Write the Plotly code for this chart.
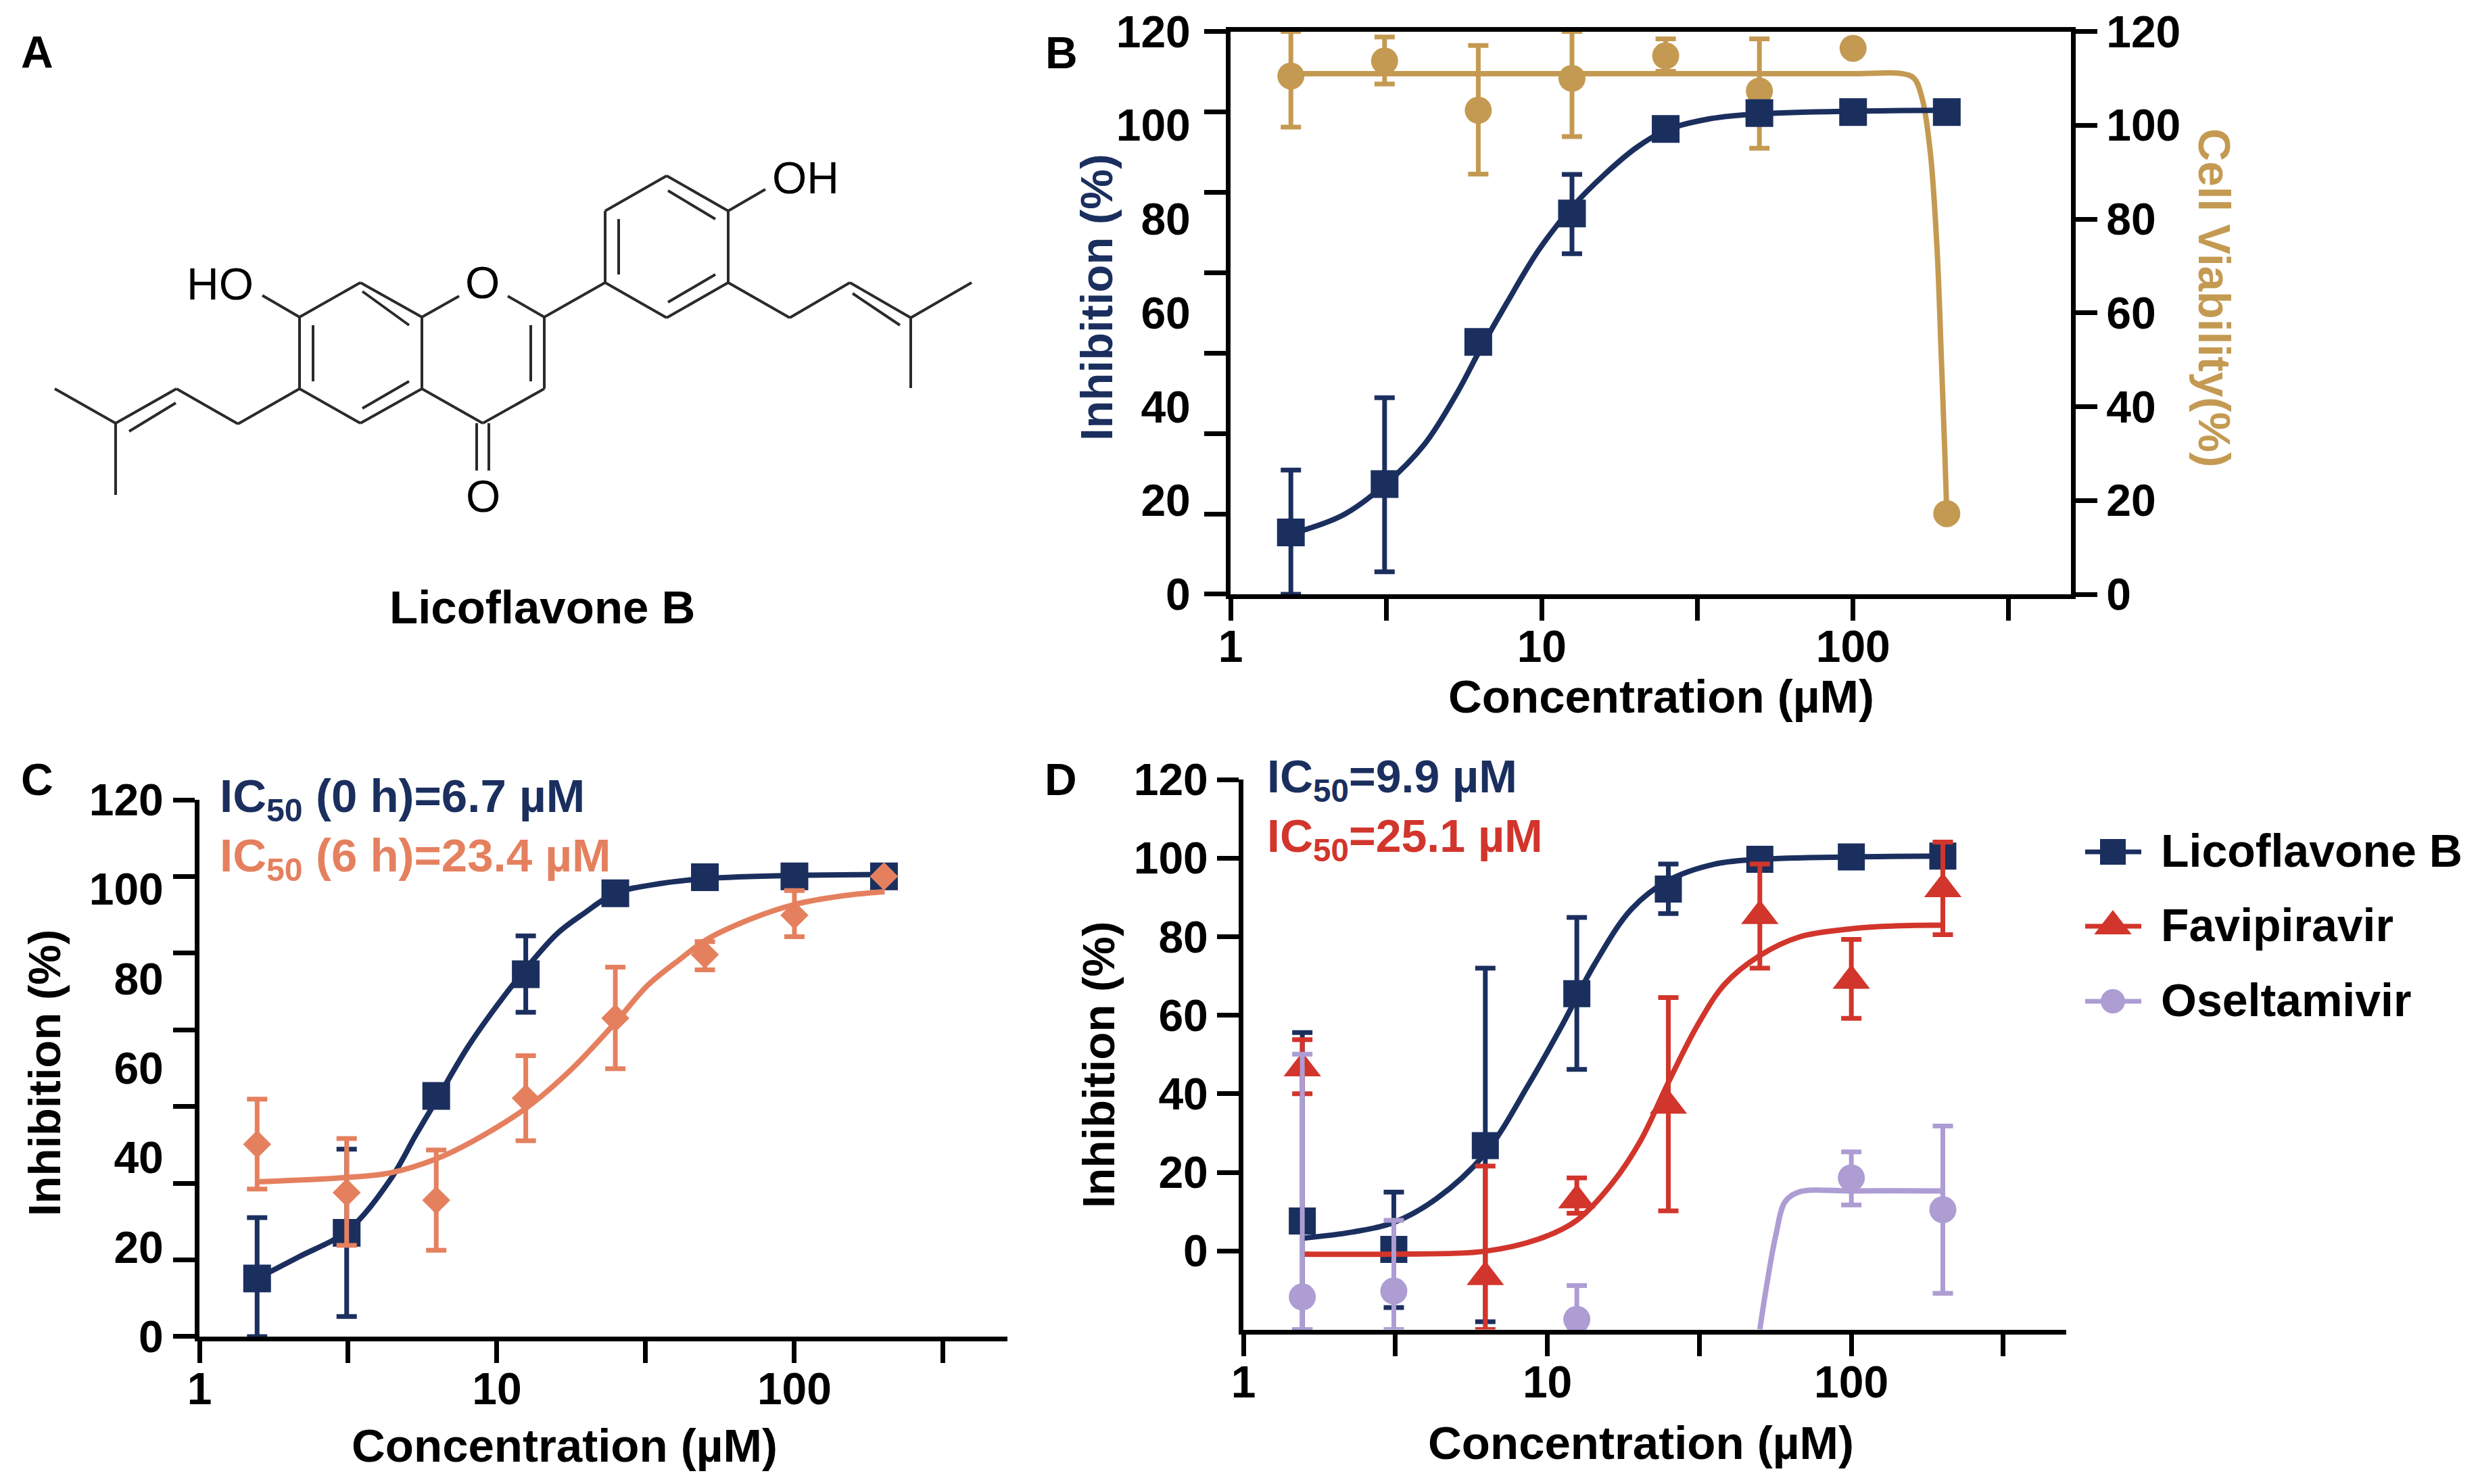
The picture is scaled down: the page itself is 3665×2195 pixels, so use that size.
import plotly.graph_objects as go

W, H = 3665, 2195

NAVY = "#1b2f5f"
TAN = "#c49a52"
SALMON = "#e5805f"
RED = "#d2352b"
LILAC = "#ad9dd3"
BLACK = "#000000"

# concentrations of the measured points
conc = [1.5625, 3.125, 6.25, 12.5, 25, 50, 100, 200]

# panel B
b_inhib = [13.2, 23.5, 53.8, 81.2, 99.2, 102.6, 102.8, 102.8]
b_inhib_hi = [26.5, 41.9, None, 89.5, None, None, None, None]
b_inhib_lo = [0, 4.8, None, 72.6, None, None, None, None]
b_inhib_fit_x = [1.57, 2.3, 3.15, 4.2, 5.35, 6.26, 7.7, 9.8, 12.5, 15.9, 20.2, 25, 34.8, 50, 100, 200]
b_inhib_fit_y = [12.9, 16.9, 23.5, 32, 43, 51.5, 62, 73.5, 82.5, 89.5, 95.3, 98.9, 101.4, 102.4, 103, 103.2]

b_viab = [110.5, 113.7, 103.2, 110, 114.8, 107.3, 116.4, 17.2]
b_viab_hi = [120, 118.8, 117, 120, 118.4, 118.4, None, None]
b_viab_lo = [99.6, 108.8, 89.6, 97.6, 111.5, 95.1, None, None]
b_viab_fit_x = [1.5625, 10, 100, 143.6, 157, 167, 177, 186, 192, 197, 200]
b_viab_fit_y = [111, 111, 111, 111, 110, 105.5, 94.3, 74, 50.8, 30.6, 17.2]

# panel C
c_0h = [13, 23.2, 53.8, 81, 99.1, 102.7, 102.9, 102.9]
c_0h_hi = [26.6, 41.9, None, 89.6, None, None, None, None]
c_0h_lo = [0, 4.5, None, 72.5, None, None, None, None]
c_0h_fit_x = [1.5625, 2.17, 3.15, 4.37, 5.33, 6.28, 7.94, 10, 12.6, 16, 19.5, 25, 35.6, 50.5, 100, 201]
c_0h_fit_y = [13, 17.9, 23.7, 35, 45, 53, 64.5, 74, 82.5, 90.2, 94.5, 99.1, 101.3, 102.4, 103.1, 103.3]

c_6h = [43, 32.2, 30.5, 53.3, 71.2, 85.4, 94.2, 102.9]
c_6h_hi = [53.1, 44.3, 41.7, 62.8, 82.6, 88.3, 99.7, None]
c_6h_lo = [33, 20.4, 19.3, 43.8, 59.9, 82, 89.4, None]
c_6h_fit_x = [1.5625, 3.15, 4.37, 6.28, 8.36, 12.6, 17.7, 25, 32.2, 41.3, 50.5, 71.6, 100, 144, 201]
c_6h_fit_y = [34.6, 35.6, 36.6, 39.8, 43.8, 51.2, 59.6, 70.2, 78.6, 84.4, 88.7, 93.4, 96.6, 98.5, 99.5]

# panel D
d_lico = [7.6, 0.4, 26.8, 65.5, 92.1, 99.7, 100.3, 100.5]
d_lico_hi = [55.6, 15, 72, 84.9, 98.5, None, None, None]
d_lico_lo = [-20, -14.4, -18, 46.2, 85.9, None, None, None]
d_lico_fit_x = [1.55, 2.28, 3.11, 4.3, 6.21, 8.71, 11.1, 14.3, 18.9, 25, 35.7, 50, 100, 200]
d_lico_fit_y = [3.2, 4.8, 7.2, 13.2, 24.6, 42.6, 57, 73, 87, 94.3, 98.5, 99.7, 100.3, 100.5]

d_fav = [46.5, None, -6.6, 12.9, 37, 85.3, 68.8, 92.1]
d_fav_hi = [53.8, None, 21.6, 18.6, 64.5, 98.5, 79.3, 104.1]
d_fav_lo = [40, None, -20, 9.6, 10.2, 72, 59.2, 80.5]
d_fav_fit_x = [1.55, 3.11, 6.21, 9.35, 12.5, 16.4, 20.3, 24.9, 31, 38.3, 49.8, 67.3, 100, 146, 200]
d_fav_fit_y = [-0.8, -0.8, -0.1, 3, 7.8, 17.4, 28.2, 42.6, 57.1, 67.9, 75.1, 79.9, 82, 82.8, 82.9]

d_osel = [-11.7, -10.2, None, -17.4, None, None, 18.6, 10.5]
d_osel_hi = [50.1, 7.8, None, -8.8, None, None, 25.2, 31.8]
d_osel_lo = [-20, -20, None, -20, None, None, 11.7, -10.8]
d_osel_fit_x = [50, 52.6, 56.5, 60.6, 67.3, 100, 200]
d_osel_fit_y = [-20, -9, 4.2, 12.6, 15, 15.3, 15.3]

# axis ticks
x_ticks = [1, 10, 100]
x_tick_text = ["1", "10", "100"]
x_half_ticks = [3.162, 31.62, 316.2]
y_ticks = [0, 20, 40, 60, 80, 100, 120]
# the left axes of B and C carry seven tick marks under six labels
y_marks = [0.01, 17.14, 34.29, 51.43, 68.57, 85.71, 102.86, 119.99]

# legend of panel D
legend_names = ["Licoflavone B", "Favipiravir", "Oseltamivir"]
legend_colors = [NAVY, RED, LILAC]
legend_symbols = ["square", "triangle-up", "circle"]
legend_sizes = [38, 48, 36]
legend_rows = [1260, 1370, 1481]

# molecule in panel A, bonds in page pixels
bonds = [
    ((81, 575), (171, 626)), ((171, 626), (171, 732)), ((171, 626), (261, 575)), ((191, 638), (260, 596)),
    ((261, 575), (352, 627)), ((352, 627), (443, 575)),
    ((443, 575), (443, 469)), ((443, 469), (533, 418)), ((533, 418), (624, 469)), ((624, 469), (624, 575)),
    ((624, 575), (533, 626)), ((533, 626), (443, 575)),
    ((463, 481), (463, 564)), ((536, 431), (605, 481)), ((605, 564), (536, 604)),
    ((388, 437), (443, 469)), ((624, 469), (679, 438)), ((751, 438), (805, 469)),
    ((805, 469), (805, 575)), ((785, 481), (785, 564)), ((805, 575), (714, 626)), ((714, 626), (624, 575)),
    ((705, 626), (705, 696)), ((723, 626), (723, 696)),
    ((805, 469), (895, 418)), ((895, 418), (895, 312)), ((895, 312), (986, 260)), ((986, 260), (1077, 312)),
    ((1077, 312), (1077, 418)), ((1077, 418), (986, 470)), ((986, 470), (895, 418)),
    ((915, 324), (915, 406)), ((988, 282), (1058, 324)), ((1058, 406), (988, 447)),
    ((1077, 312), (1132, 280)), ((1077, 418), (1168, 470)), ((1168, 470), (1257, 418)),
    ((1257, 418), (1347, 470)), ((1261, 434), (1331, 481)), ((1347, 470), (1437, 418)), ((1347, 470), (1347, 574)),
]
bond_x = []
bond_y = []
for start, end in bonds:
    bond_x += [start[0], end[0], None]
    bond_y += [start[1], end[1], None]

FONT = "Liberation Sans"
TICK_FONT = dict(family=FONT, size=66, color=BLACK, weight=700)
TICKS = dict(ticklen=32, tickwidth=7, tickcolor=BLACK)


def error_bars(values, hi, lo, color):
    plus = [None if h is None or v is None else h - v for h, v in zip(hi, values)]
    minus = [None if l is None or v is None else v - l for l, v in zip(lo, values)]
    return dict(type="data", symmetric=False, array=plus, arrayminus=minus,
                color=color, thickness=7, width=15)


def add_series(fig, xa, ya, fit_x, fit_y, values, hi, lo, color, symbol, size):
    fig.add_trace(go.Scatter(x=fit_x, y=fit_y, mode="lines", xaxis=xa, yaxis=ya, showlegend=False,
                             line=dict(color=color, width=8, shape="spline", smoothing=1.0)))
    fig.add_trace(go.Scatter(x=conc, y=values, mode="markers", xaxis=xa, yaxis=ya, showlegend=False,
                             cliponaxis=False, error_y=error_bars(values, hi, lo, color),
                             marker=dict(color=color, symbol=symbol, size=size)))


def x_axis(left, right, anchor, log_end, **kwargs):
    return dict(type="log", range=[0, log_end], domain=[left / W, right / W], anchor=anchor, automargin=False,
                tickvals=x_ticks, ticktext=x_tick_text, tickangle=0, ticks="outside", ticklabelstandoff=-18,
                minor=dict(tickmode="array", tickvals=x_half_ticks, ticks="outside", **TICKS),
                showline=True, linewidth=7, linecolor=BLACK, showgrid=False,
                zeroline=False, tickfont=TICK_FONT, **TICKS, **kwargs)


def y_axis(top, bottom, anchor, low, **kwargs):
    return dict(range=[low, 120], domain=[1 - bottom / H, 1 - top / H], anchor=anchor, tickvals=y_ticks,
                automargin=False, showline=True, linewidth=7, linecolor=BLACK, showgrid=False, zeroline=False,
                tickfont=TICK_FONT, **kwargs)


# left axis with labels and marks on different spacing
def split_ticks(standoff):
    return dict(ticks="", ticklabelstandoff=standoff,
                minor=dict(tickmode="array", tickvals=y_marks, ticks="outside", **TICKS))


fig = go.Figure()

# panel A
fig.add_trace(go.Scatter(x=bond_x, y=bond_y, mode="lines", xaxis="x4", yaxis="y5", showlegend=False,
                         line=dict(color="#2a2a2a", width=4)))

# panel B
add_series(fig, "x", "y", b_viab_fit_x, b_viab_fit_y, b_viab, b_viab_hi, b_viab_lo, TAN, "circle", 40)
add_series(fig, "x", "y2", b_inhib_fit_x, b_inhib_fit_y, b_inhib, b_inhib_hi, b_inhib_lo, NAVY, "square", 41)

# panel C
add_series(fig, "x2", "y3", c_0h_fit_x, c_0h_fit_y, c_0h, c_0h_hi, c_0h_lo, NAVY, "square", 41)
add_series(fig, "x2", "y3", c_6h_fit_x, c_6h_fit_y, c_6h, c_6h_hi, c_6h_lo, SALMON, "diamond", 32)

# panel D, oseltamivir lies on top of the others in the original
add_series(fig, "x3", "y4", d_lico_fit_x, d_lico_fit_y, d_lico, d_lico_hi, d_lico_lo, NAVY, "square", 40)
add_series(fig, "x3", "y4", d_fav_fit_x, d_fav_fit_y, d_fav, d_fav_hi, d_fav_lo, RED, "triangle-up", 48)
add_series(fig, "x3", "y4", d_osel_fit_x, d_osel_fit_y, d_osel, d_osel_hi, d_osel_lo, LILAC, "circle", 40)

# legend keys, the built-in legend caps marker size too small here
for color, symbol, size, row in zip(legend_colors, legend_symbols, legend_sizes, legend_rows):
    fig.add_trace(go.Scatter(x=[3084, 3125, 3167], y=[row, row, row], mode="lines", xaxis="x4", yaxis="y5",
                             showlegend=False, line=dict(color=color, width=7)))
    fig.add_trace(go.Scatter(x=[3125], y=[row], mode="markers", xaxis="x4", yaxis="y5", showlegend=False,
                             marker=dict(color=color, symbol=symbol, size=size)))


def label(text, x, y, size=66, color=BLACK, weight=700, angle=0, anchor="center"):
    return dict(text=text, x=x, y=y, xref="x4", yref="y5", showarrow=False, textangle=angle,
                xanchor=anchor, yanchor="middle", font=dict(family=FONT, size=size, color=color, weight=weight))


annotations = [
    label("A", 55, 77), label("B", 1570, 78), label("C", 55, 1153), label("D", 1569, 1153),
    label("HO", 325, 420, weight=400), label("O", 713, 418, weight=400),
    label("O", 714, 734, weight=400), label("OH", 1191, 263, weight=400),
    label("Licoflavone B", 802, 898, size=69),
    label("Inhibition (%)", 1621, 440, size=67, color=NAVY, angle=-90),
    label("Cell Viability(%)", 3276, 440, size=67, color=TAN, angle=90),
    label("Concentration (µM)", 2457, 1030, size=69),
    label("Inhibition (%)", 65, 1587, size=67, angle=-90),
    label("Concentration (µM)", 835, 2138, size=69),
    label("Inhibition (%)", 1624, 1575, size=67, angle=-90),
    label("Concentration (µM)", 2427, 2134, size=69),
    label("IC<sub>50</sub> (0 h)=6.7 µM", 323, 1182, size=69, color=NAVY, anchor="left"),
    label("IC<sub>50</sub> (6 h)=23.4 µM", 323, 1270, size=69, color=SALMON, anchor="left"),
    label("IC<sub>50</sub>=9.9 µM", 1872, 1153, size=68, color=NAVY, anchor="left"),
    label("IC<sub>50</sub>=25.1 µM", 1872, 1241, size=68, color=RED, anchor="left"),
]
for name, row in zip(legend_names, legend_rows):
    annotations.append(label(name, 3194, row - 2, size=68, anchor="left"))

fig.update_layout(
    width=W, height=H, margin=dict(l=0, r=0, t=0, b=0), paper_bgcolor="white", plot_bgcolor="rgba(0,0,0,0)",
    showlegend=False,
    xaxis=x_axis(1820, 3063, "y", 2.7, mirror=True),
    yaxis=y_axis(46.5, 879, "x", 0, side="right", ticks="outside", **TICKS),
    yaxis2=y_axis(46.5, 879, "x", 0, side="left", overlaying="y", **split_ticks(39)),
    xaxis2=x_axis(295, 1490, "y3", 2.716),
    yaxis3=y_axis(1183, 1977, "x2", 0, **split_ticks(33)),
    xaxis3=x_axis(1839, 3056, "y4", 2.707),
    yaxis4=y_axis(1153, 1966.5, "x3", -20, ticks="outside", **TICKS),
    xaxis4=dict(domain=[0, 1], range=[0, W], visible=False, anchor="y5"),
    yaxis5=dict(domain=[0, 1], range=[H, 0], visible=False, anchor="x4"),
    annotations=annotations,
)

# the page body has a default margin that would shift the figure
fig.write_html("out.html", config={"displayModeBar": False}, post_script="document.body.style.margin = '0';")
